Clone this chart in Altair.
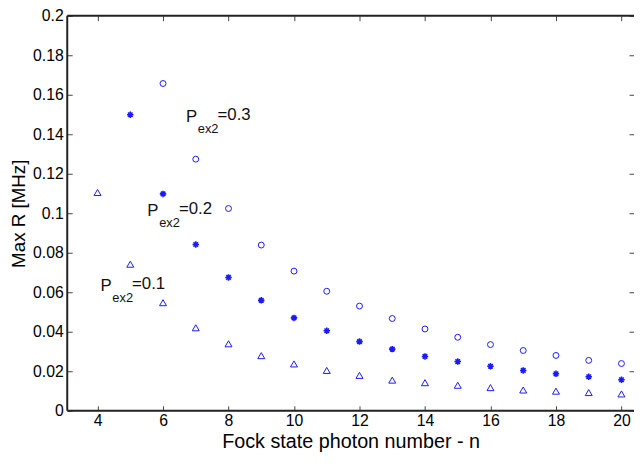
import altair as alt
import pandas as pd

# ---- data ----
n_tri = list(range(4, 21))
R_tri = [0.1105, 0.0742, 0.0547, 0.0420, 0.0339, 0.0279, 0.0237, 0.0204, 0.0179,
         0.0155, 0.0142, 0.0129, 0.0117, 0.0105, 0.0099, 0.0092, 0.0085]
n_star = list(range(5, 21))
R_star = [0.1499, 0.1098, 0.0842, 0.0675, 0.0559, 0.0470, 0.0405, 0.0350, 0.0312,
          0.0275, 0.0249, 0.0225, 0.0204, 0.0187, 0.0172, 0.0157]
n_circ = list(range(6, 21))
R_circ = [0.1657, 0.1274, 0.1024, 0.0839, 0.0707, 0.0605, 0.0530, 0.0467, 0.0414,
          0.0372, 0.0335, 0.0305, 0.0280, 0.0255, 0.0239]

series_names = ["0.1", "0.2", "0.3"]

label_text = ["=0.1", "=0.2", "=0.3"]
label_x = [4.09, 5.52, 6.70]
label_y = [0.0607, 0.0985, 0.1460]

x_ticks = [4, 6, 8, 10, 12, 14, 16, 18, 20]
y_ticks = [0, 0.02, 0.04, 0.06, 0.08, 0.1, 0.12, 0.14, 0.16, 0.18, 0.2]

rows = []
for n, r in zip(n_tri, R_tri):
    rows.append({"n": n, "R": r, "s": "0.1"})
for n, r in zip(n_star, R_star):
    rows.append({"n": n, "R": r, "s": "0.2"})
for n, r in zip(n_circ, R_circ):
    rows.append({"n": n, "R": r, "s": "0.3"})
df = pd.DataFrame(rows)

labels = pd.DataFrame({"x": label_x, "y": label_y, "t": label_text})

FONT = "Liberation Sans"
W, H = 574, 400
xs = alt.Scale(domain=[3.075, 20.383], nice=False, zero=False)
ys = alt.Scale(domain=[0, 0.2], nice=False, zero=True)

star = "M-1,0L1,0M0,-1L0,1M-0.7,-0.7L0.7,0.7M-0.7,0.7L0.7,-0.7"

axis_common = dict(grid=False, domain=False, tickSize=5, offset=-5,
                   tickColor="#444", tickWidth=1, labelColor="black",
                   titleColor="black", labelFont=FONT, titleFont=FONT,
                   labelFontSize=16, titleFontWeight="normal")

shape_scale = alt.Scale(domain=series_names, range=["triangle-up", star, "circle"])
size_scale = alt.Scale(domain=series_names, range=[50, 36, 42])

base = alt.Chart(df)

outline = base.transform_filter(alt.datum.s != "0.2").mark_point(
    filled=False, opacity=1, strokeWidth=1, color="#1a1aff").encode(
    x=alt.X("n:Q", scale=xs,
            axis=alt.Axis(orient="bottom", values=x_ticks, title="Fock state photon number - n",
                          labelPadding=2, titlePadding=3, titleFontSize=20, **axis_common)),
    y=alt.Y("R:Q", scale=ys,
            axis=alt.Axis(orient="left", values=y_ticks, format="~g", title="Max R [MHz]",
                          labelPadding=4, titlePadding=4, titleFontSize=19, **axis_common)),
    shape=alt.Shape("s:N", scale=shape_scale, legend=None),
    size=alt.Size("s:N", scale=size_scale, legend=None),
)

stars = base.transform_filter(alt.datum.s == "0.2").mark_point(
    filled=False, opacity=1, strokeWidth=1.6, color="#1a1aff").encode(
    x=alt.X("n:Q", scale=xs, axis=None),
    y=alt.Y("R:Q", scale=ys, axis=None),
    shape=alt.Shape("s:N", scale=shape_scale, legend=None),
    size=alt.Size("s:N", scale=size_scale, legend=None),
)

axes2 = base.mark_point(opacity=0).encode(
    x=alt.X("n:Q", scale=xs,
            axis=alt.Axis(orient="top", values=x_ticks, labels=False, title=None, **axis_common)),
    y=alt.Y("R:Q", scale=ys,
            axis=alt.Axis(orient="right", values=y_ticks, labels=False, title=None, **axis_common)),
)

txt_P = alt.Chart(labels).mark_text(align="left", baseline="alphabetic", font=FONT,
                                    fontSize=17, color="#111").encode(
    x=alt.X("x:Q", scale=xs, axis=None), y=alt.Y("y:Q", scale=ys, axis=None),
    text=alt.value("P"))
txt_sub = alt.Chart(labels).mark_text(align="left", baseline="alphabetic", font=FONT,
                                      fontSize=13, color="#111", dx=12, dy=11).encode(
    x=alt.X("x:Q", scale=xs, axis=None), y=alt.Y("y:Q", scale=ys, axis=None),
    text=alt.value("ex2"))
txt_val = alt.Chart(labels).mark_text(align="left", baseline="alphabetic", font=FONT,
                                      fontSize=17, color="#111", dx=32, dy=-2).encode(
    x=alt.X("x:Q", scale=xs, axis=None), y=alt.Y("y:Q", scale=ys, axis=None),
    text="t:N")

one = alt.Data(values=[{}])
frame_top = alt.Chart(one).mark_rule(color="#222", strokeWidth=2).encode(
    x=alt.value(0), x2=alt.value(W), y=alt.value(0))
frame_bot = alt.Chart(one).mark_rule(color="#222", strokeWidth=2).encode(
    x=alt.value(0), x2=alt.value(W), y=alt.value(H))
frame_left = alt.Chart(one).mark_rule(color="#222", strokeWidth=2).encode(
    x=alt.value(0), y=alt.value(0), y2=alt.value(H))

chart = alt.layer(outline, stars, axes2, txt_P, txt_sub, txt_val,
                  frame_top, frame_bot, frame_left).resolve_axis(
    x="independent", y="independent"
).properties(
    width=W, height=H,
    autosize=alt.AutoSizeParams(type="none"),
    padding={"left": 60, "top": 5, "right": 0, "bottom": 45},
    background="white",
).configure_view(stroke=None)

chart.save("out.html", embed_options={"renderer": "svg", "actions": False})
